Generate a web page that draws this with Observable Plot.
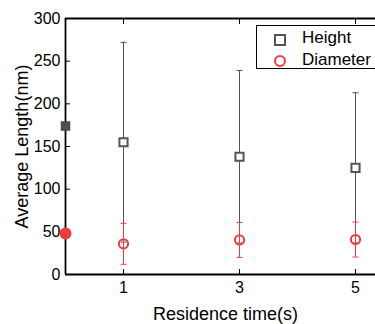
<!DOCTYPE html>
<html><head><meta charset="utf-8">
<script src="https://cdn.jsdelivr.net/npm/d3@7"></script>
<script src="https://cdn.jsdelivr.net/npm/@observablehq/plot@0.6"></script>
<style>
html,body{margin:0;padding:0;background:#fff;overflow:hidden;}
#wrap{position:relative;width:375px;height:324px;overflow:hidden;font-family:"Liberation Sans",Arial,sans-serif;}
#legend{position:absolute;left:256px;top:25px;width:150px;height:44px;border:1.5px solid #000;background:#fff;box-sizing:border-box;}
.item{position:absolute;left:0;height:20px;font-size:17px;line-height:20px;color:#000;}
.item span.t{position:absolute;left:45px;top:0;white-space:nowrap;}
.sq{position:absolute;left:17px;top:6px;width:8px;height:8px;border:2px solid #555;box-sizing:content-box;}
.ci{position:absolute;left:17px;top:5px;width:8px;height:8px;border:2px solid #f03c3c;border-radius:50%;}
</style></head>
<body><div id="wrap"></div>
<script>
// ---- data ----
const times = [1, 3, 5];
const heightMean = [155, 138, 125];
const heightErr = [117, 101, 88];
const diamMean = [36, 40.5, 41];
const diamErr = [24, 20.5, 20.5];
const seedTime = [0];
const seedHeight = [174];
const seedDiam = [48];
const yTicks = [0, 50, 100, 150, 200, 250, 300];
const xTicks = [1, 3, 5];
const seriesNames = ["Height", "Diameter"];
const xTitle = "Residence time(s)";
const yTitle = "Average Length(nm)";

const gray = "#555555";
const red = "#f03c3c";

const hData = times.map((t, i) => ({t, m: heightMean[i], lo: heightMean[i] - heightErr[i], hi: heightMean[i] + heightErr[i]}));
const dData = times.map((t, i) => ({t, m: diamMean[i], lo: diamMean[i] - diamErr[i], hi: diamMean[i] + diamErr[i]}));
const seeds = seedTime.map((t, i) => ({t, h: seedHeight[i], d: seedDiam[i]}));

const cap = {draw(ctx) { ctx.moveTo(-3, 0); ctx.lineTo(3, 0); }};

const chart = Plot.plot({
  width: 375,
  height: 324,
  marginLeft: 65,
  marginRight: 0,
  marginTop: 18,
  marginBottom: 50,
  style: {fontFamily: "Liberation Sans, Arial, sans-serif", background: "#fff"},
  x: {domain: [0, 310 / 58], ticks: xTicks},
  y: {domain: [0, 300], ticks: yTicks},
  marks: [
    Plot.axisY({ticks: yTicks, tickSize: -5, tickPadding: 10, fontSize: 16, label: null, stroke: "#000", color: "#000"}),
    Plot.axisX({ticks: xTicks, tickSize: -5, tickPadding: 12, tickFormat: d => String(d), fontSize: 16, label: null, stroke: "#000", color: "#000"}),
    Plot.axisX({anchor: "top", ticks: xTicks, tickSize: -5, tickFormat: () => "", label: null, stroke: "#000"}),
    Plot.ruleY([0], {stroke: "#000", strokeWidth: 1.8}),
    Plot.ruleY([300], {stroke: "#000", strokeWidth: 1.8}),
    Plot.ruleX([0], {stroke: "#000", strokeWidth: 1.8}),
    // Height error bars
    Plot.ruleX(hData, {x: "t", y1: "lo", y2: "hi", stroke: gray, strokeWidth: 1}),
    Plot.dot(hData, {x: "t", y: "hi", symbol: cap, stroke: gray, strokeWidth: 1}),
    Plot.dot(hData, {x: "t", y: "lo", symbol: cap, stroke: gray, strokeWidth: 1}),
    Plot.dot(hData, {x: "t", y: "m", symbol: "square", r: 4.6, stroke: gray, strokeWidth: 2, fill: "#fff"}),
    // Diameter error bars
    Plot.ruleX(dData, {x: "t", y1: "lo", y2: "hi", stroke: red, strokeWidth: 1}),
    Plot.dot(dData, {x: "t", y: "hi", symbol: cap, stroke: red, strokeWidth: 1}),
    Plot.dot(dData, {x: "t", y: "lo", symbol: cap, stroke: red, strokeWidth: 1}),
    Plot.dot(dData, {x: "t", y: "m", symbol: "circle", r: 4.6, stroke: red, strokeWidth: 2, fill: "none"}),
    // seeds at t=0
    Plot.dot(seeds, {x: "t", y: "h", symbol: "square", r: 5.4, fill: "#4d4d4d", stroke: "none"}),
    Plot.dot(seeds, {x: "t", y: "d", symbol: "circle", r: 6, fill: red, stroke: "none"}),
    // axis titles
    Plot.text([yTitle], {frameAnchor: "left", text: d => d, rotate: -90, textAnchor: "middle", dx: -43, fontSize: 18, fill: "#000"}),
    Plot.text([xTitle], {frameAnchor: "bottom", text: d => d, textAnchor: "middle", dx: 5, dy: 33, lineAnchor: "top", fontSize: 18, fill: "#000"})
  ]
});
const wrap = document.getElementById("wrap");
wrap.appendChild(chart);
const lg = document.createElement("div");
lg.id = "legend";
lg.innerHTML = `<div class="item" style="top:2px"><div class="sq"></div><span class="t">${seriesNames[0]}</span></div>
<div class="item" style="top:24px"><div class="ci"></div><span class="t">${seriesNames[1]}</span></div>`;
wrap.appendChild(lg);
</script></body></html>
